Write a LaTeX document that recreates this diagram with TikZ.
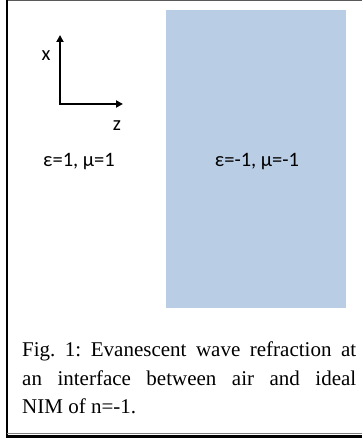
\documentclass[tikz,border=0pt]{standalone}
\usepackage{fontspec}
\setmainfont{Liberation Serif}
\newfontfamily\calib{Carlito}
\usetikzlibrary{arrows.meta}
\definecolor{nimblue}{RGB}{185,205,229}
\begin{document}
\begin{tikzpicture}[x=1pt,y=-1pt,
  axis/.style={line width=2pt,-{Triangle[length=7pt,width=7pt]}},
  lbl/.style={font=\calib\fontsize{20.5}{22}\selectfont,inner sep=0pt},
  frameline/.style={line width=2.5pt,black}]
\useasboundingbox (0,0) rectangle (362,438);
% frame
\draw[gray!70!black,line width=0.8pt] (6,0.4) -- (362,0.4);
\draw[frameline] (7.2,0) -- (7.2,437);
\draw[gray,line width=0.8pt] (7,433.8) -- (362,433.8);
\draw[frameline] (6,436.5) -- (362,436.5);
% NIM region
\fill[nimblue] (166,10) rectangle (346,308);
% axes
\coordinate (o) at (60,104);
\coordinate (xe) at (60,35);
\coordinate (ze) at (123,104);
\draw[axis] (o) -- (xe);
\draw[axis] ([xshift=-1pt]o) -- (ze);
\node[lbl] (xl) at (46,56) {x};
\node[lbl] (zl) at (117,126) {z};
\node[lbl] (air) at (79,162) {ε=1, μ=1};
\node[lbl] (nim) at (257,162) {ε=-1, μ=-1};
% caption
\node[anchor=north west,inner sep=0pt] (cap) at (22,342) {\parbox{334pt}{\frenchspacing\fontsize{21}{28.5}\selectfont
Fig. 1: Evanescent wave refraction at\linebreak an interface between air and ideal\linebreak NIM of n=-1.}};
\end{tikzpicture}
\end{document}
